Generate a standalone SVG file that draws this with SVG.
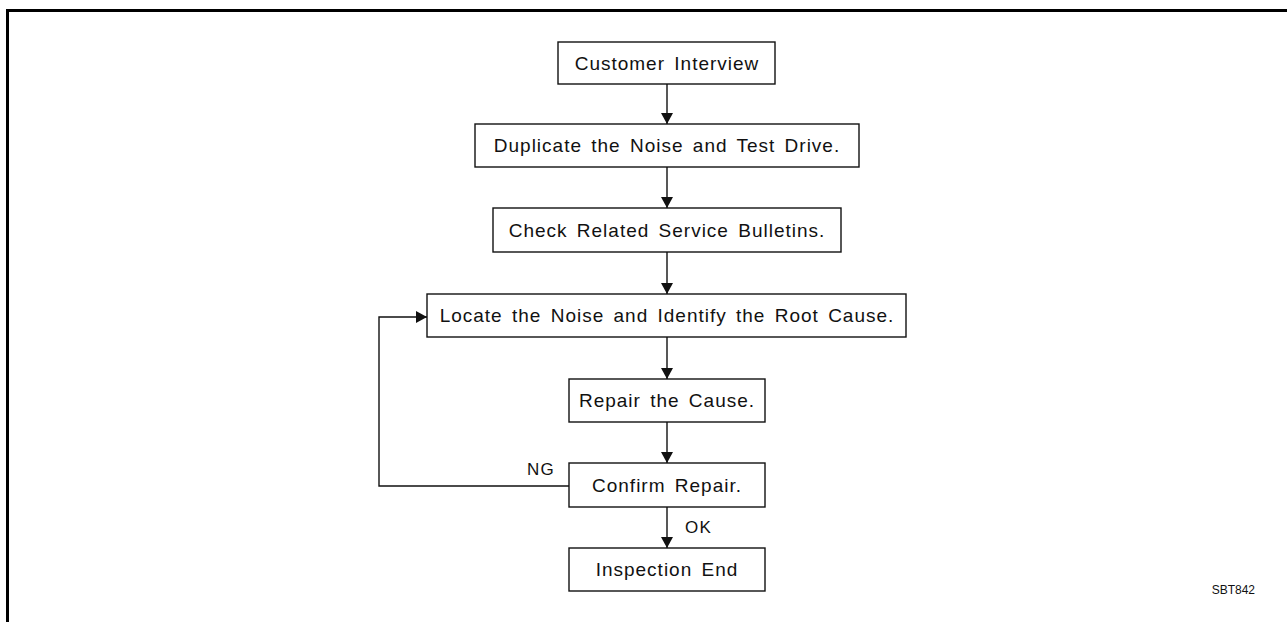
<svg xmlns="http://www.w3.org/2000/svg" width="1287" height="622" viewBox="0 0 1287 622">
<style>
.box{fill:#fff;stroke:#111;stroke-width:1.4}
.t{font-family:"Liberation Sans",Arial,sans-serif;font-size:19px;letter-spacing:1px;word-spacing:3px;fill:#111;text-anchor:middle}
.lbl{font-family:"Liberation Sans",Arial,sans-serif;font-size:17px;letter-spacing:1.2px;fill:#111}
.c{fill:none;stroke:#111;stroke-width:1.4}
</style>
<defs>
<marker id="ah" markerWidth="11" markerHeight="12" refX="11" refY="6" orient="auto" markerUnits="userSpaceOnUse">
<path d="M0,0 L11,6 L0,12 Z" fill="#111"/>
</marker>
</defs>
<rect width="1287" height="622" fill="#fff"/>
<g id="frame">
<path d="M7.5,622 V10.5 H1287" fill="none" stroke="#000" stroke-width="3"/>
</g>
<g id="connectors">
<line class="c" x1="667" y1="84" x2="667" y2="124" marker-end="url(#ah)"/>
<line class="c" x1="667" y1="167" x2="667" y2="208" marker-end="url(#ah)"/>
<line class="c" x1="667" y1="252" x2="667" y2="294" marker-end="url(#ah)"/>
<line class="c" x1="667" y1="337" x2="667" y2="379" marker-end="url(#ah)"/>
<line class="c" x1="667" y1="422" x2="667" y2="463" marker-end="url(#ah)"/>
<line class="c" x1="667" y1="507" x2="667" y2="548" marker-end="url(#ah)"/>
<polyline class="c" points="569,486 379,486 379,317 427,317" marker-end="url(#ah)"/>
<text class="lbl" x="527" y="475">NG</text>
<text class="lbl" x="685" y="533">OK</text>
</g>
<g id="n1"><rect class="box" x="558" y="42" width="217" height="42"/><text class="t" x="667" y="70">Customer Interview</text></g>
<g id="n2"><rect class="box" x="475" y="124" width="384" height="43"/><text class="t" x="667" y="152">Duplicate the Noise and Test Drive.</text></g>
<g id="n3"><rect class="box" x="493" y="208" width="348" height="44"/><text class="t" x="667" y="236.5">Check Related Service Bulletins.</text></g>
<g id="n4"><rect class="box" x="427" y="294" width="479" height="43"/><text class="t" x="667" y="322">Locate the Noise and Identify the Root Cause.</text></g>
<g id="n5"><rect class="box" x="569" y="379" width="196" height="43"/><text class="t" x="667" y="407">Repair the Cause.</text></g>
<g id="n6"><rect class="box" x="569" y="463" width="196" height="44"/><text class="t" x="667" y="491.5">Confirm Repair.</text></g>
<g id="n7"><rect class="box" x="569" y="548" width="196" height="43"/><text class="t" x="667" y="576">Inspection End</text></g>
<text x="1255" y="594" font-family="Liberation Sans,Arial,sans-serif" font-size="12" fill="#111" text-anchor="end">SBT842</text>
</svg>
